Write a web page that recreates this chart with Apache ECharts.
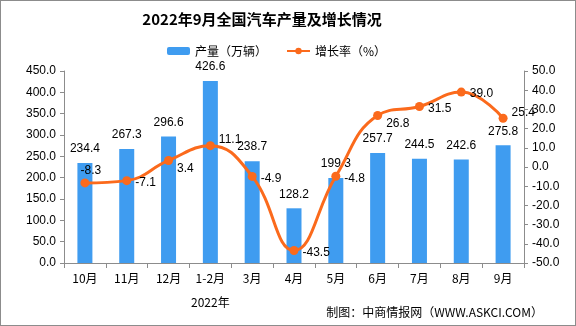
<!DOCTYPE html>
<html><head><meta charset="utf-8">
<script src="https://cdn.jsdelivr.net/npm/echarts@6/dist/echarts.min.js"></script>
<style>html,body{margin:0;padding:0;background:#fff}#c{width:574px;height:324px;border:1px solid #8c8c8c}</style>
</head><body><div id="c"></div>
<script>
const categories = ['10月','11月','12月','1-2月','3月','4月','5月','6月','7月','8月','9月'];
const production = [234.4, 267.3, 296.6, 426.6, 238.7, 128.2, 199.3, 257.7, 244.5, 242.6, 275.8];
const growth = [-8.3, -7.1, 3.4, 11.1, -4.9, -43.5, -4.8, 26.8, 31.5, 39.0, 25.4];
const yearLabel = '2022年';
const sourceText = '制图：中商情报网（WWW.ASKCI.COM）';
const titleText = '2022年9月全国汽车产量及增长情况';

const chart = echarts.init(document.getElementById('c'));
const font = '"Liberation Sans", "Noto Sans CJK SC", sans-serif';
const cjk = '"Noto Sans CJK SC", sans-serif';
const labelPos = {0: 'top'};
const growthData = growth.map((v, i) => ({
  value: v,
  label: { position: labelPos[i] || 'right', offset: i === 0 ? [6, 2] : (i === 2 || i === 7 ? [0, 8] : (i === 3 || i === 10 ? [0, -6] : [0, 2])) }
}));
chart.setOption({
  animation: false,
  textStyle: { fontFamily: font },
  legend: {
    top: 39, left: 161, itemGap: 19, itemWidth: 23, itemHeight: 8,
    textStyle: { fontSize: 12, color: '#000', fontFamily: cjk },
    data: [{ name: '产量（万辆）' }, { name: '增长率（%）' }]
  },
  grid: { left: 63, right: 51, top: 70, bottom: 62, containLabel: false },
  xAxis: {
    type: 'category', data: categories, boundaryGap: true,
    axisLine: { lineStyle: { color: '#8c8c8c' } },
    axisTick: { show: true, alignWithLabel: false, length: 5, lineStyle: { color: '#8c8c8c' } },
    axisLabel: { color: '#000', fontSize: 12, margin: 9, fontFamily: cjk }
  },
  yAxis: [
    { type: 'value', min: 0, max: 450, interval: 50,
      axisLine: { show: true, lineStyle: { color: '#8c8c8c' } },
      axisTick: { show: true, length: 4, lineStyle: { color: '#8c8c8c' } },
      splitLine: { show: false },
      axisLabel: { color: '#000', fontSize: 12, margin: 8, formatter: v => v.toFixed(1) } },
    { type: 'value', min: -50, max: 50, interval: 10,
      axisLine: { show: true, lineStyle: { color: '#8c8c8c' } },
      axisTick: { show: true, length: 4, lineStyle: { color: '#8c8c8c' } },
      splitLine: { show: false },
      axisLabel: { color: '#000', fontSize: 12, margin: 8, formatter: v => v.toFixed(1) } }
  ],
  series: [
    { name: '产量（万辆）', type: 'bar', data: production, barWidth: 15,
      itemStyle: { color: '#3f9cf0' },
      label: { show: true, position: 'top', distance: 8, color: '#000', fontSize: 12, formatter: p => p.value.toFixed(1) } },
    { name: '增长率（%）', type: 'line', yAxisIndex: 1, data: growthData, smooth: 0.45,
      symbol: 'circle', symbolSize: 9,
      lineStyle: { color: '#fb6a1c', width: 3 },
      itemStyle: { color: '#fb6a1c' },
      label: { show: true, color: '#000', fontSize: 12, distance: 4, formatter: p => p.value.toFixed(1) } }
  ],
  graphic: [
    { type: 'text', x: 261, y: 11, style: { text: titleText, align: 'center', fill: '#000', font: 'bold 15px "Noto Sans CJK SC", sans-serif' } },
    { type: 'text', left: 190, top: 295, style: { text: yearLabel, fill: '#000', font: '12px "Noto Sans CJK SC", sans-serif' } },
    { type: 'text', right: 32, top: 305, style: { text: sourceText, fill: '#000', font: '12px "Noto Sans CJK SC", sans-serif' } }
  ]
});
</script></body></html>
